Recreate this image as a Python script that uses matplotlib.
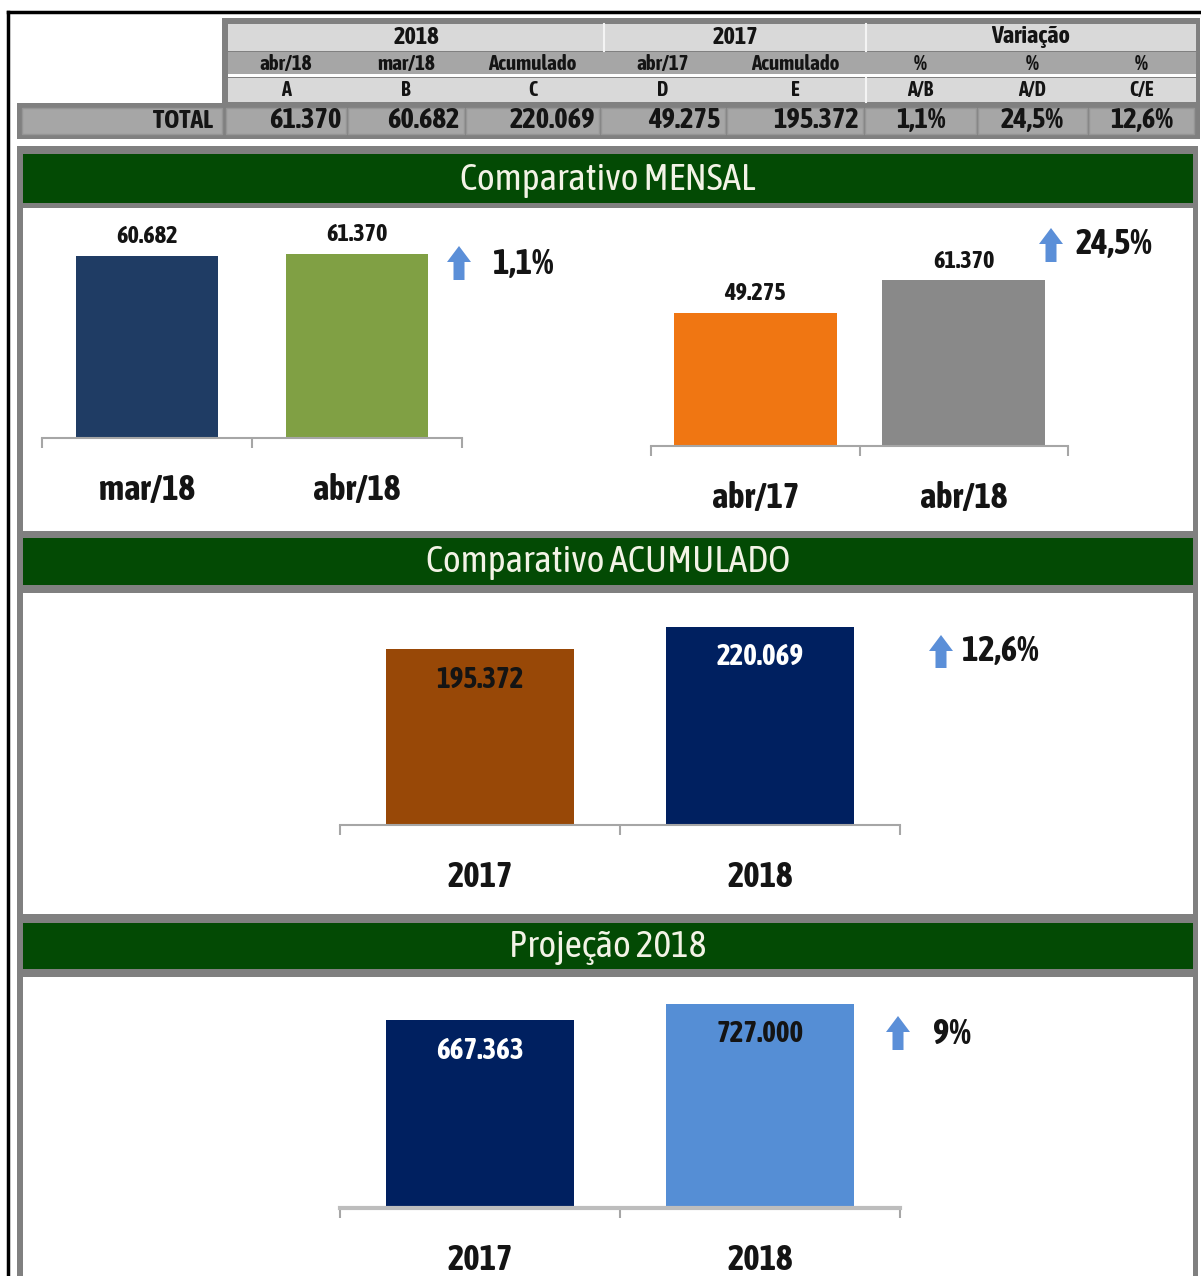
import matplotlib.pyplot as plt
from matplotlib.patches import Rectangle, FancyArrow

W, H = 1201, 1276
NARROW = ['Asap Condensed', 'Liberation Sans', 'DejaVu Sans']

# tabela
grupos = ['2018', '2017', 'Variação']
sub_cols = ['abr/18', 'mar/18', 'Acumulado', 'abr/17', 'Acumulado', '%', '%', '%']
letras = ['A', 'B', 'C', 'D', 'E', 'A/B', 'A/D', 'C/E']
total_row = ['61.370', '60.682', '220.069', '49.275', '195.372', '1,1%', '24,5%', '12,6%']

# graficos
titulos = ['Comparativo MENSAL', 'Comparativo ACUMULADO', 'Projeção 2018']
mensal_a_cats = ['mar/18', 'abr/18']
mensal_a_vals = [60682, 61370]
mensal_a_var = '1,1%'
mensal_b_cats = ['abr/17', 'abr/18']
mensal_b_vals = [49275, 61370]
mensal_b_var = '24,5%'
acum_cats = ['2017', '2018']
acum_vals = [195372, 220069]
acum_var = '12,6%'
proj_cats = ['2017', '2018']
proj_vals = [667363, 727000]
proj_var = '9%'

GRAY = '#808080'
LIGHT = '#d9d9d9'
MID = '#a6a6a6'
GREEN = '#034a04'
TXT = '#141414'


def fmt(v):
    return f"{v:,}".replace(',', '.')


fig = plt.figure(figsize=(W / 100, H / 100), dpi=100)
bg = fig.add_axes([0, 0, 1, 1])
bg.set_xlim(0, W)
bg.set_ylim(H, 0)
bg.axis('off')


def box(x0, y0, x1, y1, color, ec='none', lw=0):
    bg.add_patch(Rectangle((x0, y0), x1 - x0, y1 - y0, facecolor=color,
                           edgecolor=ec, linewidth=lw))


def txt(x, y, s, size, ha='center', weight='bold', color=TXT):
    bg.text(x, y, s, fontsize=size, ha=ha, va='center', fontweight=weight,
            color=color, family=NARROW)


# borda preta
bg.plot([8, W], [12, 12], color='black', lw=2.5)
bg.plot([8, 8], [12, H], color='black', lw=2.5)

# ---- tabela ----
cells = [225, 347, 465, 600, 726, 864, 977, 1088, 1195]
box(222, 18, 1200, 104, GRAY)
box(228, 24, 1196, 51, LIGHT)
box(228, 52, 1196, 74, MID)
box(228, 74, 1196, 77, 'white')
box(228, 78, 1196, 102, LIGHT)
for xs in [604, 866]:
    bg.plot([xs, xs], [24, 51], color='#f4f4f4', lw=1.5)
bg.plot([866, 866], [78, 102], color='#f4f4f4', lw=1.5)
grp_bounds = [(228, 604), (604, 866), (866, 1196)]
for g, (a, b) in zip(grupos, grp_bounds):
    txt((a + b) / 2, 37, g, 17.5)
for i in range(8):
    xc = (cells[i] + cells[i + 1]) / 2
    txt(xc, 64, sub_cols[i], 15)
    txt(xc, 90, letras[i], 14.5)

box(17, 103, 1200, 139, GRAY)
box(22, 108, 222, 134, MID, ec='#959595', lw=1)
txt(213, 121, 'TOTAL', 18.5, ha='right')
for i in range(8):
    box(cells[i] + 1, 108, cells[i + 1] - 1, 134, MID, ec='#959595', lw=1)
    if '%' in total_row[i]:
        txt((cells[i] + cells[i + 1]) / 2, 121, total_row[i], 20.5)
    else:
        txt(cells[i + 1] - 5, 121, total_row[i], 20.5, ha='right')

# ---- paineis ----
box(17, 146, 1198, H + 5, GRAY)
heads = [(154, 203), (538, 585), (923, 969)]
whites = [(208, 531), (593, 914), (977, H + 5)]
for (a, b), t in zip(heads, titulos):
    box(23, a, 1193, b, GREEN)
    txt(608, (a + b) / 2 + 1, t, 27, weight='normal', color='#f3f3e6')
for a, b in whites:
    box(23, a, 1193, b, 'white')


def bar_chart(x0, x1, top, base, ymax, cats, vals, colors, width,
              inside=False, lab_colors=None, lab_size=17.5, axis_lw=1.5,
              axis_col='#a6a6a6'):
    ax = fig.add_axes([x0 / W, 1 - base / H, (x1 - x0) / W, (base - top) / H])
    ax.patch.set_alpha(0)
    ax.bar(range(len(vals)), vals, width=width, color=colors, zorder=1)
    ax.set_xlim(-0.5, len(vals) - 0.5)
    ax.set_ylim(0, ymax)
    for s in ['top', 'left', 'right']:
        ax.spines[s].set_visible(False)
    ax.spines['bottom'].set_color(axis_col)
    ax.spines['bottom'].set_linewidth(axis_lw)
    ax.spines['bottom'].set_zorder(3)
    ax.set_yticks([])
    ax.set_xticks([-0.5, 0.5, 1.5])
    ax.set_xticklabels([])
    ax.tick_params(axis='x', length=7, width=1.5, color='#a6a6a6', direction='out')
    if lab_colors is None:
        lab_colors = [TXT] * len(vals)
    for i, (c, v) in enumerate(zip(cats, vals)):
        ax.annotate(c, (i, 0), xytext=(0, -52 * 0.72), textcoords='offset points',
                    ha='center', va='center', fontsize=25, fontweight='bold',
                    color=TXT, family=NARROW, annotation_clip=False)
        off = -30 if inside else 19
        ax.annotate(fmt(v), (i, v), xytext=(0, off * 0.72), textcoords='offset points',
                    ha='center', va='center', fontsize=lab_size, fontweight='bold',
                    color=lab_colors[i], family=NARROW, annotation_clip=False)
    return ax


bar_chart(42, 462, 216, 438, 74000, mensal_a_cats, mensal_a_vals,
          ['#1f3c64', '#80a044'], 0.68)
bar_chart(651, 1068, 216, 446, 85200, mensal_b_cats, mensal_b_vals,
          ['#f07612', '#898989'], 0.78)
bar_chart(340, 900, 600, 825, 250000, acum_cats, acum_vals,
          ['#984807', '#002060'], 0.67, inside=True,
          lab_colors=[TXT, 'white'], lab_size=21)
bar_chart(340, 900, 985, 1208, 793000, proj_cats, proj_vals,
          ['#002060', '#558ed5'], 0.67, inside=True,
          lab_colors=['white', TXT], lab_size=21, axis_lw=3, axis_col='#bdbdbd')


def up_arrow(xc, ytop, ybot):
    bg.add_patch(FancyArrow(xc, ybot, 0, -(ybot - ytop), width=11, head_width=24,
                            head_length=16, length_includes_head=True,
                            color='#5b8fd8', lw=0, zorder=5))


up_arrow(459, 246, 280)
txt(493, 264, mensal_a_var, 25, ha='left')
up_arrow(1051, 228, 262)
txt(1075, 244, mensal_b_var, 25, ha='left')
up_arrow(941, 635, 668)
txt(962, 651, acum_var, 25, ha='left')
up_arrow(898, 1016, 1050)
txt(933, 1034, proj_var, 25, ha='left')

fig.savefig('out.png', dpi=100)
